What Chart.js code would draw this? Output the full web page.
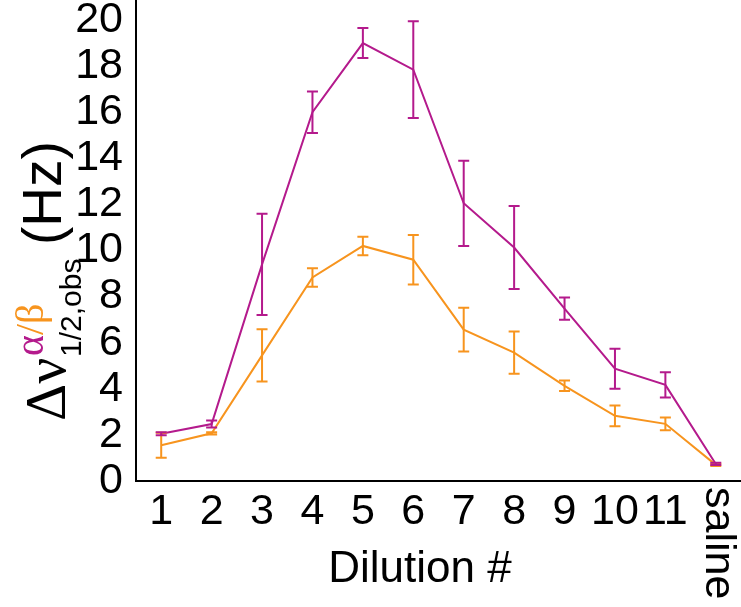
<!DOCTYPE html>
<html>
<head>
<meta charset="utf-8">
<script src="https://cdn.jsdelivr.net/npm/chart.js@4.4.1/dist/chart.umd.min.js"></script>
<style>
  html, body { margin: 0; padding: 0; background: #fff; }
  canvas { display: block; }
</style>
</head>
<body>
<canvas id="myChart" width="741" height="607"></canvas>
<script>
'use strict';

// dilution steps along the x axis
var categories = ['1', '2', '3', '4', '5', '6', '7', '8', '9', '10', '11', 'saline'];

// alpha linewidth (Hz) with error
var alphaMean = [2.05, 2.47, 9.4, 16.0, 19.0, 17.85, 12.05, 10.13, 7.48, 4.87, 4.17, 0.74];
var alphaErr  = [0.07, 0.15, 2.2, 0.9, 0.65, 2.1, 1.85, 1.8, 0.48, 0.87, 0.55, 0.05];

// beta linewidth (Hz) with error
var betaMean = [1.55, 2.07, 5.45, 8.83, 10.2, 9.6, 6.57, 5.57, 4.13, 2.83, 2.48, 0.7];
var betaErr  = [0.54, 0.05, 1.13, 0.4, 0.4, 1.07, 0.95, 0.92, 0.23, 0.45, 0.28, 0.05];

var yTicks = [0, 2, 4, 6, 8, 10, 12, 14, 16, 18, 20];

var MAGENTA = 'rgb(180, 26, 140)';
var ORANGE = 'rgb(247, 148, 30)';
var SANS = '"Liberation Sans", Arial, sans-serif';
var SERIF = '"Liberation Serif", "Times New Roman", serif';

// vertical error bars with caps, drawn through the chart scales
var errorBars = {
  id: 'errorBars',
  afterDatasetsDraw: function(chart) {
    var ctx = chart.ctx;
    var xs = chart.scales.x;
    var ys = chart.scales.y;
    chart.data.datasets.forEach(function(ds) {
      ctx.save();
      ctx.strokeStyle = ds.borderColor;
      ctx.lineWidth = 2;
      ds.data.forEach(function(v, i) {
        var e = ds.errors[i];
        var px = xs.getPixelForValue(i);
        var top = ys.getPixelForValue(v + e);
        var bot = ys.getPixelForValue(v - e);
        ctx.beginPath();
        ctx.moveTo(px, top);
        ctx.lineTo(px, bot);
        ctx.moveTo(px - 5.5, top);
        ctx.lineTo(px + 5.5, top);
        ctx.moveTo(px - 5.5, bot);
        ctx.lineTo(px + 5.5, bot);
        ctx.stroke();
      });
      ctx.restore();
    });
  }
};

// x tick labels (saline turned on its side), x title and the y title
var axisText = {
  id: 'axisText',
  afterDraw: function(chart) {
    var ctx = chart.ctx;
    var xs = chart.scales.x;
    ctx.save();
    ctx.fillStyle = '#000';
    ctx.font = '43px ' + SANS;
    ctx.textAlign = 'center';
    ctx.textBaseline = 'alphabetic';
    categories.forEach(function(c, i) {
      var px = xs.getPixelForValue(i);
      if (c === 'saline') {
        ctx.save();
        ctx.translate(px - 10, 487);
        ctx.rotate(Math.PI / 2);
        ctx.textAlign = 'left';
        ctx.fillText(c, 0, 0);
        ctx.restore();
      } else {
        ctx.fillText(c, px, 524);
      }
    });

    ctx.font = '44px ' + SANS;
    ctx.fillText('Dilution #', 420, 582);

    // y title, reading bottom to top
    ctx.save();
    ctx.rotate(-Math.PI / 2);
    ctx.textAlign = 'left';
    ctx.font = '58px ' + SERIF;
    ctx.fillText('\u0394\u03bd', -421, 65);
    ctx.font = '40px ' + SERIF;
    var u = -356;
    ctx.fillStyle = MAGENTA;
    ctx.fillText('\u03b1', u, 43);
    u += ctx.measureText('\u03b1').width;
    ctx.fillStyle = ORANGE;
    ctx.fillText('/\u03b2', u, 43);
    ctx.fillStyle = '#000';
    ctx.font = '30px ' + SANS;
    ctx.fillText('1/2,obs', -357, 81);
    ctx.font = '55px ' + SANS;
    ctx.fillText('(Hz)', -245, 61);
    ctx.restore();

    ctx.restore();
  }
};

var ctx = document.getElementById('myChart');
var myChart = new Chart(ctx, {
  type: 'line',
  data: {
    labels: categories,
    datasets: [{
      label: 'beta',
      data: betaMean,
      errors: betaErr,
      borderColor: ORANGE,
      borderWidth: 2,
      pointRadius: 0,
      tension: 0,
      fill: false
    }, {
      label: 'alpha',
      data: alphaMean,
      errors: alphaErr,
      borderColor: MAGENTA,
      borderWidth: 2,
      pointRadius: 0,
      tension: 0,
      fill: false
    }]
  },
  options: {
    responsive: false,
    animation: false,
    devicePixelRatio: 1,
    layout: { padding: 0 },
    plugins: {
      legend: { display: false },
      tooltip: { enabled: false }
    },
    scales: {
      x: {
        type: 'category',
        offset: true,
        grid: { display: false },
        border: { color: '#000', width: 2 },
        ticks: { display: false },
        afterFit: function(scale) {
          scale.height = 126;
          scale.paddingLeft = 0;
          scale.paddingRight = 0;
        }
      },
      y: {
        min: 0,
        max: 20.87,
        grid: { display: false },
        border: { color: '#000', width: 2 },
        ticks: {
          color: '#000',
          padding: 5,
          font: { family: SANS, size: 43, lineHeight: 1 }
        },
        afterBuildTicks: function(scale) {
          scale.ticks = yTicks.map(function(v) { return { value: v }; });
        },
        afterFit: function(scale) {
          scale.width = 136;
          scale.paddingTop = 0;
          scale.paddingBottom = 0;
        }
      }
    }
  },
  plugins: [errorBars, axisText]
});
</script>
</body>
</html>
